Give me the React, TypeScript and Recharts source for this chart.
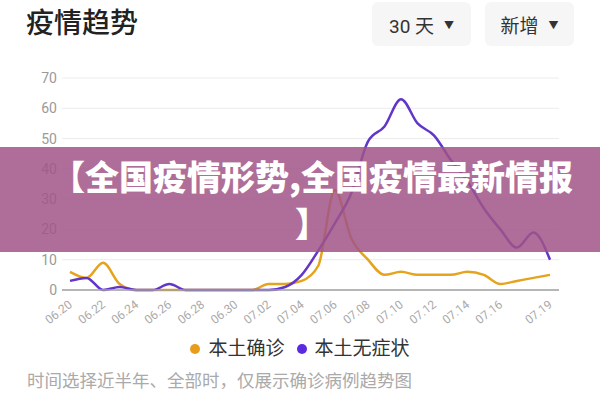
import React from "react";
import { LineChart, Line, XAxis, YAxis, CartesianGrid } from "recharts";

const dates = [
  "06.20", "06.21", "06.22", "06.23", "06.24", "06.25", "06.26", "06.27", "06.28", "06.29", "06.30",
  "07.01", "07.02", "07.03", "07.04", "07.05", "07.06", "07.07", "07.08", "07.09", "07.10",
  "07.11", "07.12", "07.13", "07.14", "07.15", "07.16", "07.17", "07.18", "07.19",
];
const confirmed = [6, 4, 9, 2, 0, 0, 0, 0, 0, 0, 0, 0, 2, 2, 3, 8, 33, 17, 10, 5, 6, 5, 5, 5, 6, 5, 2, 3, 4, 5];
const asymptomatic = [3, 4, 0, 1, 0, 0, 2, 0, 0, 0, 0, 0, 0, 1, 5, 13, 22, 32, 49, 54, 63, 55, 51, 43, 36, 27, 20, 14, 19, 10];
const xTicks = ["06.20", "06.22", "06.24", "06.26", "06.28", "06.30", "07.02", "07.04", "07.06", "07.08", "07.10", "07.12", "07.14", "07.16", "07.19"];
const yTicks = [0, 10, 20, 30, 40, 50, 60, 70];
const seriesNames = ["本土确诊", "本土无症状"];
const colors = ["#e6a41e", "#6236c8"];

const data = dates.map((d, i) => ({ date: d, confirmed: confirmed[i], asymptomatic: asymptomatic[i] }));

const FONT = 'Roboto, "Noto Sans CJK SC", sans-serif';

const XTick = (props: any) => {
  const { x, y, payload } = props;
  const tx = x + 3;
  const ty = y + 8;
  return (
    <text x={tx} y={ty} transform={`rotate(-38 ${tx} ${ty})`} textAnchor="end" fill="#aaa" fontSize={12} fontFamily={FONT}>
      {payload.value}
    </text>
  );
};

export default function App() {
  return (
    <div style={{ position: "absolute", left: 0, top: 0, width: 600, height: 400, background: "#fff", fontFamily: FONT, overflow: "hidden" }}>
      <div style={{ position: "absolute", left: 26, top: 6, fontSize: 28, fontWeight: 500, color: "#222", lineHeight: "36px" }}>疫情趋势</div>
      <div style={{ position: "absolute", left: 372, top: 2, width: 99, height: 44, background: "#f6f6f6", borderRadius: 6, display: "flex", alignItems: "center", justifyContent: "center", fontSize: 19, color: "#333" }}>
        <span>30 天</span><span style={{ fontSize: 10, marginLeft: 10 }}>▼</span>
      </div>
      <div style={{ position: "absolute", left: 485, top: 2, width: 89, height: 44, background: "#f6f6f6", borderRadius: 6, display: "flex", alignItems: "center", justifyContent: "center", fontSize: 19, color: "#333" }}>
        <span>新增</span><span style={{ fontSize: 10, marginLeft: 10 }}>▼</span>
      </div>

      <div style={{ position: "absolute", left: 0, top: 0 }}>
        <LineChart width={600} height={340} data={data} margin={{ top: 78, right: 41, bottom: 20, left: 0 }}>
          <CartesianGrid vertical={false} stroke="#ececec" />
          <XAxis
            dataKey="date"
            ticks={xTicks}
            interval={0}
            padding={{ left: 8, right: 9 }}
            tickLine={false}
            axisLine={{ stroke: "#a0a0a0", strokeWidth: 1.5 }}
            tick={<XTick />}
            height={30}
          />
          <YAxis
            domain={[0, 70]}
            ticks={yTicks}
            width={62}
            axisLine={false}
            tickLine={false}
            tickSize={4}
            tickMargin={1}
            tick={{ fill: "#9a9a9a", fontSize: 14, fontFamily: FONT }}
          />
          <Line type="monotone" dataKey="confirmed" name={seriesNames[0]} stroke={colors[0]} strokeWidth={2.5} dot={false} isAnimationActive={false} />
          <Line type="monotone" dataKey="asymptomatic" name={seriesNames[1]} stroke={colors[1]} strokeWidth={2.5} dot={false} isAnimationActive={false} />
        </LineChart>
      </div>

      <div style={{ position: "absolute", left: 0, top: 335, width: 600, display: "flex", justifyContent: "center", alignItems: "center", fontSize: 19, color: "#333", lineHeight: "28px" }}>
        <span style={{ display: "inline-block", width: 10, height: 10, borderRadius: 5, background: "#e89c1c", marginRight: 8 }} />
        <span>{seriesNames[0]}</span>
        <span style={{ display: "inline-block", width: 10, height: 10, borderRadius: 5, background: "#5b2be0", marginLeft: 12, marginRight: 8 }} />
        <span>{seriesNames[1]}</span>
      </div>

      <div style={{ position: "absolute", left: 27, top: 369, fontSize: 17.5, color: "#aaa", lineHeight: "24px", whiteSpace: "nowrap" }}>
        时间选择近半年、全部时，仅展示确诊病例趋势图
      </div>

      <div style={{ position: "absolute", left: 0, top: 147, width: 600, height: 105, background: "rgba(160,85,135,0.85)" }} />
      <div style={{ position: "absolute", left: 40, top: 152, width: 544, textAlign: "center", whiteSpace: "nowrap", color: "#fff", fontSize: 34, fontWeight: 900, lineHeight: "47px", fontFamily: '"Noto Sans CJK SC", sans-serif' }}>
        【全国疫情形势,全国疫情最新情报
        <br />
        】
      </div>
    </div>
  );
}
